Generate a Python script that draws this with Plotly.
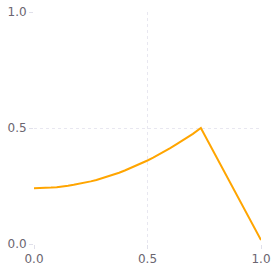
import plotly.graph_objects as go

x_vals = [0.0, 0.025, 0.05, 0.075, 0.1, 0.125, 0.15, 0.175, 0.2, 0.225, 0.25, 0.275, 0.3, 0.325,
          0.35, 0.375, 0.4, 0.425, 0.45, 0.475, 0.5, 0.525, 0.55, 0.575, 0.6, 0.625, 0.65, 0.675,
          0.7, 0.735, 1.0]
y_vals = [0.240, 0.240, 0.241, 0.243, 0.245, 0.247, 0.251, 0.255, 0.259, 0.264, 0.270, 0.276, 0.283, 0.291,
          0.299, 0.307, 0.317, 0.327, 0.337, 0.348, 0.360, 0.372, 0.385, 0.399, 0.413, 0.428, 0.443, 0.459,
          0.475, 0.500, 0.017]
tick_vals = [0.0, 0.5, 1.0]
tick_text = ["0.0", "0.5", "1.0"]

fig = go.Figure()
fig.add_trace(go.Scatter(x=x_vals, y=y_vals, mode="lines",
                         line=dict(color="#FFA500", width=2), showlegend=False))

axis_common = dict(
    range=[0, 1], tickvals=tick_vals, ticktext=tick_text,
    showgrid=True, gridcolor="#e8e7f0", griddash="dot", gridwidth=1,
    zeroline=False, showline=False, automargin=False,
    ticks="outside", ticklen=4, tickcolor="#e0e0ea", tickwidth=1,
    tickfont=dict(family="DejaVu Sans", size=12, color="#6b6570"),
)
fig.update_layout(
    width=273, height=273,
    margin=dict(l=34, r=12, t=12, b=29),
    plot_bgcolor="white", paper_bgcolor="white",
    xaxis=axis_common, yaxis=axis_common,
)
fig.write_html("out.html", config={"displayModeBar": False},
               post_script="document.body.style.margin='0';document.body.style.overflow='hidden';")
